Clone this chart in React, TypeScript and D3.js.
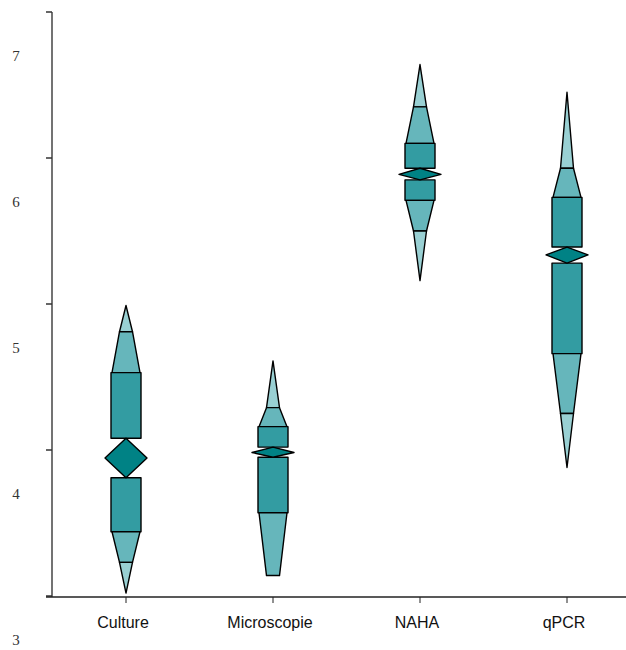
import React from "react";
import * as d3 from "d3";

// Letter-value summaries per method (log10 scale)
const categories = ["Culture", "Microscopie", "NAHA", "qPCR"];
const minValues = [3.02, 3.14, 5.16, 3.88];
const lowValues = [3.23, 3.14, 5.5, 4.25];
const q1Values = [3.44, 3.57, 5.71, 4.66];
const ciLowValues = [3.81, 3.95, 5.85, 5.28];
const medianValues = [3.945, 3.983, 5.888, 5.336];
const ciHighValues = [4.08, 4.02, 5.93, 5.39];
const q3Values = [4.53, 4.16, 6.1, 5.73];
const highValues = [4.81, 4.29, 6.35, 5.93];
const maxValues = [4.99, 4.61, 6.64, 6.45];
const yTicks = [3, 4, 5, 6, 7];

const W = 626;
const H = 650;

export default function App() {
  const x = d3.scaleBand<string>().domain(categories).range([52.5, 640.5]).padding(0);
  const y = d3.scaleLinear().domain([3, 7]).range([596, 12]);

  const boxHalf = 15;
  const trapOuter = 14;
  const trapInner = 6.5;
  const diamondHalf = 21;

  const cTip = "#99d0d3";
  const cTrap = "#66b6bb";
  const cBox = "#339ca2";
  const cDiamond = "#008285";

  return (
    <svg width={W} height={H} style={{ position: "absolute", left: 0, top: 0 }}>
      <rect width={W} height={H} fill="#fff" />
      {/* y axis */}
      <line x1={52} x2={52} y1={y(7)} y2={597} stroke="#444" strokeWidth={1.5} />
      {yTicks.map((t) => (
        <g key={t}>
          <line x1={46} x2={52} y1={y(t)} y2={y(t)} stroke="#333" strokeWidth={1.5} />
          <text
            x={16}
            y={y(t) + 46}
            textAnchor="middle"
            dominantBaseline="middle"
            fontFamily="Liberation Serif, serif"
            fontSize={15}
            fill="#333"
          >
            {t}
          </text>
        </g>
      ))}
      {/* x axis */}
      <line x1={46} x2={W} y1={597} y2={597} stroke="#222" strokeWidth={1.5} />
      {categories.map((c) => {
        const cx = (x(c) ?? 0) + x.bandwidth() / 2;
        return (
          <g key={c}>
            <line x1={cx} x2={cx} y1={597} y2={603} stroke="#222" strokeWidth={1} />
            <text
              x={cx - 3}
              y={628}
              textAnchor="middle"
              fontFamily="Liberation Sans, Arial, sans-serif"
              fontSize={16}
              fill="#111"
            >
              {c}
            </text>
          </g>
        );
      })}
      {categories.map((c, i) => {
        const cx = (x(c) ?? 0) + x.bandwidth() / 2;
        const yMax = y(maxValues[i]);
        const yHigh = y(highValues[i]);
        const yQ3 = y(q3Values[i]);
        const yCiH = y(ciHighValues[i]);
        const yMed = y(medianValues[i]);
        const yCiL = y(ciLowValues[i]);
        const yQ1 = y(q1Values[i]);
        const yLow = y(lowValues[i]);
        const yMin = y(minValues[i]);
        const poly = (pts: [number, number][]) => pts.map((p) => p.join(",")).join(" ");
        const stroke = { stroke: "#000", strokeWidth: 1.4, strokeLinejoin: "round" as const };
        return (
          <g key={c}>
            {yHigh - yMax > 0.5 && (
              <polygon
                points={poly([[cx, yMax], [cx + trapInner, yHigh], [cx - trapInner, yHigh]])}
                fill={cTip}
                {...stroke}
              />
            )}
            <polygon
              points={poly([
                [cx - trapInner, yHigh],
                [cx + trapInner, yHigh],
                [cx + trapOuter, yQ3],
                [cx - trapOuter, yQ3],
              ])}
              fill={cTrap}
              {...stroke}
            />
            <rect x={cx - boxHalf} y={yQ3} width={boxHalf * 2} height={yCiH - yQ3} fill={cBox} {...stroke} />
            <rect x={cx - boxHalf} y={yCiL} width={boxHalf * 2} height={yQ1 - yCiL} fill={cBox} {...stroke} />
            <polygon
              points={poly([
                [cx - trapOuter, yQ1],
                [cx + trapOuter, yQ1],
                [cx + trapInner, yLow],
                [cx - trapInner, yLow],
              ])}
              fill={cTrap}
              {...stroke}
            />
            {yMin - yLow > 0.5 && (
              <polygon
                points={poly([[cx - trapInner, yLow], [cx + trapInner, yLow], [cx, yMin]])}
                fill={cTip}
                {...stroke}
              />
            )}
            <polygon
              points={poly([
                [cx, yCiH],
                [cx + diamondHalf, yMed],
                [cx, yCiL],
                [cx - diamondHalf, yMed],
              ])}
              fill={cDiamond}
              {...stroke}
            />
          </g>
        );
      })}
    </svg>
  );
}
